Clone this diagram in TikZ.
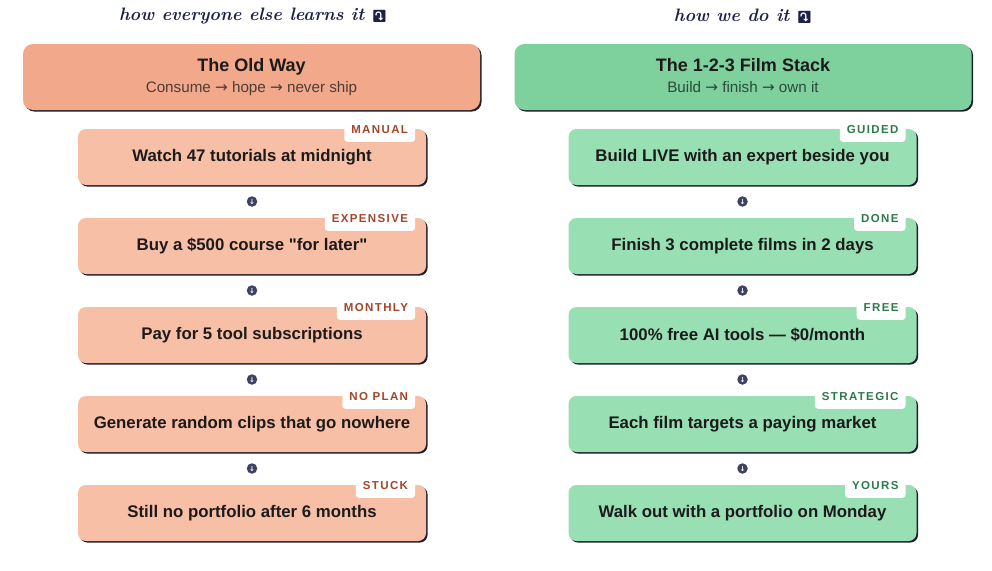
\documentclass[tikz,border=0pt]{standalone}
\usepackage{fontspec}
\setmainfont{Liberation Sans}[Ligatures=TeXOff]
\newfontfamily\symfont{DejaVu Sans}
\newfontfamily\emojifont{Noto Emoji}
\usetikzlibrary{shadows,calc}
\definecolor{ink}{HTML}{1C1A1A}
\definecolor{shadowc}{HTML}{1E1E2C}
\definecolor{oldhead}{HTML}{F2A88A}
\definecolor{olditem}{HTML}{F8BFA7}
\definecolor{oldtag}{HTML}{A3452B}
\definecolor{oldsub}{HTML}{4F3C35}
\definecolor{newhead}{HTML}{7ED19D}
\definecolor{newitem}{HTML}{98DFB4}
\definecolor{newtag}{HTML}{2C7A4B}
\definecolor{newsub}{HTML}{2E4A3A}
\definecolor{navy}{HTML}{1E2148}
\definecolor{dotc}{HTML}{3E4262}
\pgfdeclarelayer{bg}
\pgfsetlayers{bg,main}
\tikzset{
  boxshadow/.style={general shadow={fill=shadowc, shadow xshift=1.6pt, shadow yshift=-1.6pt}},
  headbox/.style={boxshadow, rounded corners=10, minimum width=457, minimum height=66, align=center, inner sep=0pt},
  itembox/.style={boxshadow, rounded corners=8, minimum width=348, minimum height=56, inner sep=0pt, text=ink,
     font=\bfseries\fontsize{16.8}{19}\selectfont},
  tagbox/.style={fill=white, rounded corners=3, minimum height=24, inner xsep=7pt, inner ysep=0pt, anchor=east,
     font=\bfseries\fontsize{11.5}{13}\selectfont\addfontfeature{LetterSpace=12}},
  hand/.style={text=navy, font=\fontspec{Latin Modern Roman}\bfseries\itshape\fontsize{18}{20}\selectfont},
  arrowdot/.style={circle, fill=dotc, minimum size=10.5, inner sep=0pt, text=white,
     font=\symfont\bfseries\fontsize{7}{7}\selectfont},
}
\newcommand{\tagshadow}[1]{%
  \begin{pgfonlayer}{bg}
  \fill[shadowc, rounded corners=3] ($(#1.north west)+(2.5,-0.5)$) rectangle ($(#1.south east)+(2.5,-0.5)$);
  \end{pgfonlayer}}
\newcommand{\hdstrut}{\vphantom{Typ}}
\begin{document}
\begin{tikzpicture}[x=1pt,y=-1pt]
\useasboundingbox (0,0) rectangle (992,570);
\fill[white] (0,0) rectangle (992,570);

% handwritten headings
\node[hand] (hl) at (253,16) {how everyone else learns it {\emojifont\fontsize{12}{12}\selectfont ⤵}};
\node[hand] (hr) at (743,16) {how we do it {\emojifont\fontsize{12}{12}\selectfont ⤵}};

% headers
\node[headbox, fill=oldhead] (oh) at (251.5,77)
  {{\bfseries\fontsize{18}{20}\selectfont\color{ink}\hdstrut The Old Way}\\[6pt]
   {\fontsize{15.2}{16}\selectfont\color{oldsub}\hdstrut Consume {\symfont →} hope {\symfont →} never ship}};
\node[headbox, fill=newhead] (nh) at (743,77)
  {{\bfseries\fontsize{18}{20}\selectfont\color{ink}\hdstrut The 1-2-3 Film Stack}\\[6pt]
   {\fontsize{15.2}{16}\selectfont\color{newsub}\hdstrut Build {\symfont →} finish {\symfont →} own it}};

% left column items
\node[itembox, fill=olditem] (l1) at (252,157) {Watch 47 tutorials at midnight};
\node[itembox, fill=olditem] (l2) at (252,246) {Buy a \$500 course "for later"};
\node[itembox, fill=olditem] (l3) at (252,335) {Pay for 5 tool subscriptions};
\node[itembox, fill=olditem] (l4) at (252,424) {Generate random clips that go nowhere};
\node[itembox, fill=olditem] (l5) at (252,513) {Still no portfolio after 6 months};

% right column items
\node[itembox, fill=newitem] (r1) at (742.5,157) {Build LIVE with an expert beside you};
\node[itembox, fill=newitem] (r2) at (742.5,246) {Finish 3 complete films in 2 days};
\node[itembox, fill=newitem] (r3) at (742.5,335) {100\% free AI tools — \$0/month};
\node[itembox, fill=newitem] (r4) at (742.5,424) {Each film targets a paying market};
\node[itembox, fill=newitem] (r5) at (742.5,513) {Walk out with a portfolio on Monday};

% tags
\foreach \b/\t in {l1/MANUAL,l2/EXPENSIVE,l3/MONTHLY,l4/NO PLAN,l5/STUCK}{
  \node[tagbox, text=oldtag] (t\b) at ($(\b.north east)+(-11,1)$) {\t};
  \tagshadow{t\b}
}
\foreach \b/\t in {r1/GUIDED,r2/DONE,r3/FREE,r4/STRATEGIC,r5/YOURS}{
  \node[tagbox, text=newtag] (t\b) at ($(\b.north east)+(-11,1)$) {\t};
  \tagshadow{t\b}
}

% step markers between boxes
\foreach \a/\b in {l1/l2,l2/l3,l3/l4,l4/l5,r1/r2,r2/r3,r3/r4,r4/r5}{
  \node[arrowdot] (d\a) at ($(\a.south)!0.5!(\b.north)$) {↓};
}
\end{tikzpicture}
\end{document}
